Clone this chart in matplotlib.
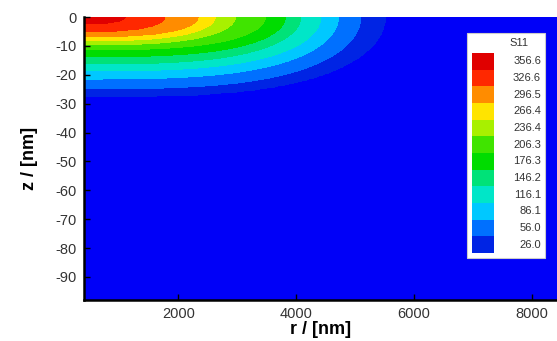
import numpy as np
import matplotlib
matplotlib.use("Agg")
import matplotlib.pyplot as plt
from matplotlib.patches import Rectangle

plt.rcParams['font.family'] = ['Liberation Sans', 'DejaVu Sans']
plt.rcParams['axes.unicode_minus'] = False

# contour levels of S11 (legend values)
levels = [26.0, 56.0, 86.1, 116.1, 146.2, 176.3, 206.3, 236.4, 266.4, 296.5, 326.6, 356.6]
# depth of each contour at the left edge (nm) and radius where it meets the surface (nm)
depth_at_axis = [27.7, 24.9, 21.5, 18.7, 16.3, 13.8, 11.4, 9.7, 8.3, 6.9, 5.2, 2.4]
radius_at_top = [5520, 5100, 4720, 4420, 4080, 3820, 3480, 2970, 2630, 2340, 1780, 1100]

# band colours: below 26, then [26,56), ..., >=356.6
band_colors = ['#0000f8', '#0024e4', '#0070ff', '#00c8ff', '#00e6c8', '#00e278',
               '#00dc00', '#40e400', '#a8f000', '#ffe400', '#ff8c00', '#ff2800', '#e00000']

r = np.linspace(400, 8450, 700)
z = np.linspace(-98, 0, 400)
R, Z = np.meshgrid(r, z)

g = [(R / a) ** 3.5 + (Z / b) ** 2 for a, b in zip(radius_at_top, depth_at_axis)]
F = np.full(R.shape, levels[0] - 10.0)
for k in range(len(levels) - 1):
    m = (g[k] <= 1) & (g[k + 1] > 1)
    t = (1 - g[k][m]) / (g[k + 1][m] - g[k][m])
    F[m] = levels[k] + t * (levels[k + 1] - levels[k])
F[g[-1] <= 1] = levels[-1] + 10.0

fig = plt.figure(figsize=(5.57, 3.41), dpi=100)
ax = fig.add_axes([84 / 557, 1 - 300 / 341, 1 - 84 / 557 + 0.002, 283 / 341])
ax.contourf(R, Z, F, levels=[-1e6] + levels + [1e6], colors=band_colors)
ax.set_xlim(400, 8450)
ax.set_ylim(-98, 0)
ax.set_xticks([2000, 4000, 6000, 8000])
ax.set_yticks(range(0, -91, -10))
ax.tick_params(direction='in', length=4, width=1, labelsize=10.5, colors='black',
               labelcolor='#333333', pad=5)
for s in ['top', 'right']:
    ax.spines[s].set_visible(False)
for s in ['left', 'bottom']:
    ax.spines[s].set_linewidth(1.8)
ax.set_xlabel('r / [nm]', fontsize=13, fontweight='bold', labelpad=0)
ax.set_ylabel('z / [nm]', fontsize=13, fontweight='bold', labelpad=13)

# legend box
def fx(px):
    return px / 557

def fy(py):
    return 1 - py / 341

fig.patches.append(Rectangle((fx(467), fy(258)), fx(545) - fx(467), fy(33) - fy(258),
                             transform=fig.transFigure, facecolor='white',
                             edgecolor='#cccccc', linewidth=0.8, zorder=5))
fig.text(fx(519), fy(43), 'S11', fontsize=8, ha='center', va='center', color='#333333', zorder=6)
box_h = (253 - 53) / len(levels)
for i, lv in enumerate(levels[::-1]):
    k = len(levels) - 1 - i
    y0 = 53 + i * box_h
    fig.patches.append(Rectangle((fx(472), fy(y0 + box_h)), fx(494) - fx(472), box_h / 341,
                                 transform=fig.transFigure, facecolor=band_colors[k + 1],
                                 edgecolor='none', zorder=6))
    fig.text(fx(541), fy(y0 + box_h / 2), f'{lv:.1f}', fontsize=8, ha='right',
             va='center', color='#333333', zorder=6)

fig.savefig('out.png', dpi=100)
